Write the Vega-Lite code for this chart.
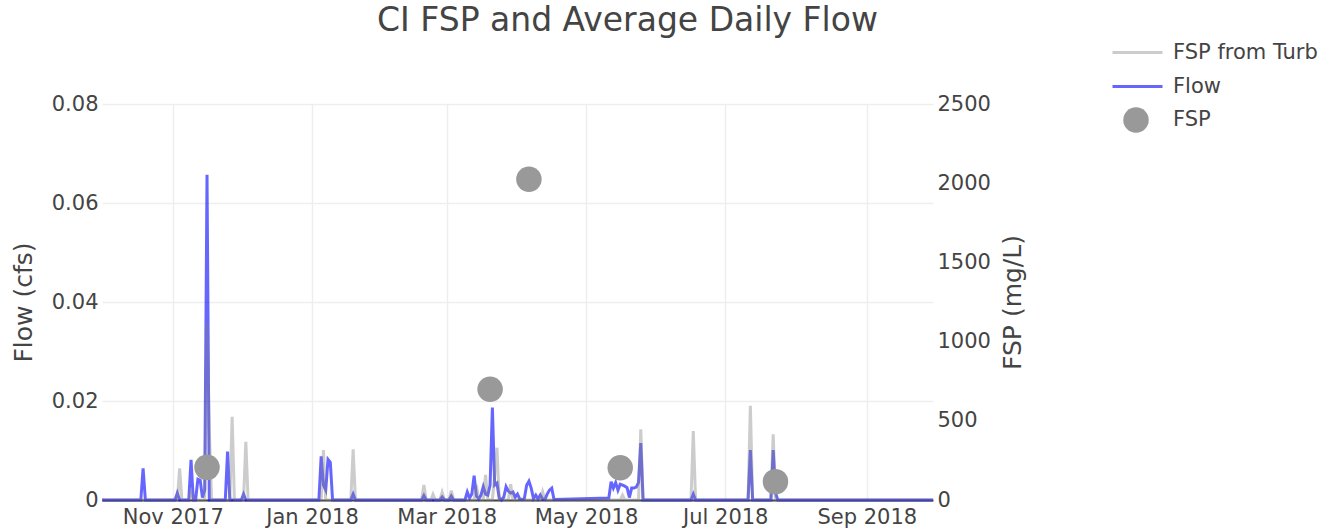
{
  "$schema": "https://vega.github.io/schema/vega-lite/v6.json",
  "width": 831,
  "height": 396,
  "autosize": {"type": "none"},
  "padding": {"left": 102, "top": 104, "right": 410, "bottom": 31},
  "title": {"text": "CI FSP and Average Daily Flow", "anchor": "middle", "frame": "group", "dx": 110, "offset": 3, "fontSize": 33, "font": "DejaVu Sans", "fontWeight": "normal", "color": "#444444"},
  "datasets": {
    "flow": [
      {"date": "2017-10-01", "flow": 0},
      {"date": "2017-10-18", "flow": 0},
      {"date": "2017-10-19", "flow": 0.0064},
      {"date": "2017-10-20", "flow": 0},
      {"date": "2017-11-02", "flow": 0},
      {"date": "2017-11-03", "flow": 0.0014},
      {"date": "2017-11-04", "flow": 0},
      {"date": "2017-11-08", "flow": 0},
      {"date": "2017-11-09", "flow": 0.0081},
      {"date": "2017-11-10", "flow": 0},
      {"date": "2017-11-11", "flow": 0},
      {"date": "2017-11-12", "flow": 0.0042},
      {"date": "2017-11-13", "flow": 0.004},
      {"date": "2017-11-14", "flow": 0.0005},
      {"date": "2017-11-15", "flow": 0.002},
      {"date": "2017-11-16", "flow": 0.0657},
      {"date": "2017-11-17", "flow": 0},
      {"date": "2017-11-24", "flow": 0},
      {"date": "2017-11-25", "flow": 0.0098},
      {"date": "2017-11-26", "flow": 0},
      {"date": "2017-12-01", "flow": 0},
      {"date": "2017-12-02", "flow": 0.0012},
      {"date": "2017-12-03", "flow": 0},
      {"date": "2018-01-04", "flow": 0},
      {"date": "2018-01-05", "flow": 0.0088},
      {"date": "2018-01-06", "flow": 0.003},
      {"date": "2018-01-07", "flow": 0.002},
      {"date": "2018-01-08", "flow": 0.0082},
      {"date": "2018-01-09", "flow": 0.0076},
      {"date": "2018-01-10", "flow": 0},
      {"date": "2018-01-18", "flow": 0},
      {"date": "2018-01-19", "flow": 0.0012},
      {"date": "2018-01-20", "flow": 0},
      {"date": "2018-02-18", "flow": 0},
      {"date": "2018-02-19", "flow": 0.0009},
      {"date": "2018-02-20", "flow": 0},
      {"date": "2018-02-26", "flow": 0},
      {"date": "2018-02-27", "flow": 0.0006},
      {"date": "2018-02-28", "flow": 0},
      {"date": "2018-03-02", "flow": 0},
      {"date": "2018-03-03", "flow": 0.0008},
      {"date": "2018-03-04", "flow": 0},
      {"date": "2018-03-09", "flow": 0},
      {"date": "2018-03-10", "flow": 0.0016},
      {"date": "2018-03-11", "flow": 0.0004},
      {"date": "2018-03-12", "flow": 0.0012},
      {"date": "2018-03-13", "flow": 0.0049},
      {"date": "2018-03-14", "flow": 0.0008},
      {"date": "2018-03-15", "flow": 0.0002},
      {"date": "2018-03-16", "flow": 0.001},
      {"date": "2018-03-17", "flow": 0.0027},
      {"date": "2018-03-18", "flow": 0.0012},
      {"date": "2018-03-19", "flow": 0.001},
      {"date": "2018-03-20", "flow": 0.003},
      {"date": "2018-03-21", "flow": 0.0187},
      {"date": "2018-03-22", "flow": 0.003},
      {"date": "2018-03-23", "flow": 0.0034},
      {"date": "2018-03-24", "flow": 0.0004},
      {"date": "2018-03-25", "flow": 0},
      {"date": "2018-03-26", "flow": 0.0006},
      {"date": "2018-03-27", "flow": 0.0027},
      {"date": "2018-03-28", "flow": 0.0018},
      {"date": "2018-03-29", "flow": 0.0014},
      {"date": "2018-03-30", "flow": 0.0016},
      {"date": "2018-03-31", "flow": 0.0006},
      {"date": "2018-04-01", "flow": 0.0012},
      {"date": "2018-04-02", "flow": 0.0002},
      {"date": "2018-04-03", "flow": 0.0001},
      {"date": "2018-04-04", "flow": 0.0003},
      {"date": "2018-04-05", "flow": 0.003},
      {"date": "2018-04-06", "flow": 0.0038},
      {"date": "2018-04-07", "flow": 0.0024},
      {"date": "2018-04-08", "flow": 0.0003},
      {"date": "2018-04-09", "flow": 0.001},
      {"date": "2018-04-10", "flow": 0.0002},
      {"date": "2018-04-11", "flow": 0.001},
      {"date": "2018-04-12", "flow": 0.0002},
      {"date": "2018-04-13", "flow": 0.0001},
      {"date": "2018-04-14", "flow": 0.0012},
      {"date": "2018-04-15", "flow": 0.002},
      {"date": "2018-04-16", "flow": 0.0024},
      {"date": "2018-04-17", "flow": 0.0001},
      {"date": "2018-05-11", "flow": 0.0004},
      {"date": "2018-05-12", "flow": 0.0037},
      {"date": "2018-05-13", "flow": 0.0024},
      {"date": "2018-05-14", "flow": 0.0035},
      {"date": "2018-05-15", "flow": 0.002},
      {"date": "2018-05-16", "flow": 0.0032},
      {"date": "2018-05-17", "flow": 0.003},
      {"date": "2018-05-18", "flow": 0.0028},
      {"date": "2018-05-19", "flow": 0.0025},
      {"date": "2018-05-20", "flow": 0.0005},
      {"date": "2018-05-21", "flow": 0.0024},
      {"date": "2018-05-22", "flow": 0.0024},
      {"date": "2018-05-23", "flow": 0.0026},
      {"date": "2018-05-24", "flow": 0.0035},
      {"date": "2018-05-25", "flow": 0.0115},
      {"date": "2018-05-26", "flow": 0},
      {"date": "2018-06-16", "flow": 0},
      {"date": "2018-06-17", "flow": 0.0012},
      {"date": "2018-06-18", "flow": 0},
      {"date": "2018-07-11", "flow": 0},
      {"date": "2018-07-12", "flow": 0.0101},
      {"date": "2018-07-13", "flow": 0},
      {"date": "2018-07-21", "flow": 0},
      {"date": "2018-07-22", "flow": 0.0101},
      {"date": "2018-07-23", "flow": 0.0015},
      {"date": "2018-07-24", "flow": 0},
      {"date": "2018-09-30", "flow": 0}
    ],
    "turb": [
      {"date": "2017-10-01", "fsp": 0},
      {"date": "2017-11-03", "fsp": 0},
      {"date": "2017-11-04", "fsp": 200},
      {"date": "2017-11-05", "fsp": 0},
      {"date": "2017-11-08", "fsp": 0},
      {"date": "2017-11-09", "fsp": 60},
      {"date": "2017-11-10", "fsp": 0},
      {"date": "2017-11-15", "fsp": 0},
      {"date": "2017-11-16", "fsp": 1115},
      {"date": "2017-11-17", "fsp": 442},
      {"date": "2017-11-18", "fsp": 0},
      {"date": "2017-11-26", "fsp": 0},
      {"date": "2017-11-27", "fsp": 526},
      {"date": "2017-11-28", "fsp": 0},
      {"date": "2017-12-02", "fsp": 0},
      {"date": "2017-12-03", "fsp": 368},
      {"date": "2017-12-04", "fsp": 0},
      {"date": "2018-01-05", "fsp": 0},
      {"date": "2018-01-06", "fsp": 316},
      {"date": "2018-01-07", "fsp": 0},
      {"date": "2018-01-18", "fsp": 0},
      {"date": "2018-01-19", "fsp": 320},
      {"date": "2018-01-20", "fsp": 0},
      {"date": "2018-02-18", "fsp": 0},
      {"date": "2018-02-19", "fsp": 95},
      {"date": "2018-02-20", "fsp": 0},
      {"date": "2018-02-22", "fsp": 0},
      {"date": "2018-02-23", "fsp": 36},
      {"date": "2018-02-24", "fsp": 0},
      {"date": "2018-02-26", "fsp": 0},
      {"date": "2018-02-27", "fsp": 49},
      {"date": "2018-02-28", "fsp": 0},
      {"date": "2018-03-02", "fsp": 0},
      {"date": "2018-03-03", "fsp": 59},
      {"date": "2018-03-04", "fsp": 0},
      {"date": "2018-03-13", "fsp": 0},
      {"date": "2018-03-14", "fsp": 95},
      {"date": "2018-03-15", "fsp": 0},
      {"date": "2018-03-17", "fsp": 0},
      {"date": "2018-03-18", "fsp": 158},
      {"date": "2018-03-19", "fsp": 0},
      {"date": "2018-03-21", "fsp": 0},
      {"date": "2018-03-22", "fsp": 150},
      {"date": "2018-03-23", "fsp": 330},
      {"date": "2018-03-24", "fsp": 0},
      {"date": "2018-03-28", "fsp": 0},
      {"date": "2018-03-29", "fsp": 99},
      {"date": "2018-03-30", "fsp": 0},
      {"date": "2018-04-11", "fsp": 0},
      {"date": "2018-04-12", "fsp": 52},
      {"date": "2018-04-13", "fsp": 0},
      {"date": "2018-05-16", "fsp": 0},
      {"date": "2018-05-17", "fsp": 30},
      {"date": "2018-05-18", "fsp": 0},
      {"date": "2018-05-24", "fsp": 0},
      {"date": "2018-05-25", "fsp": 446},
      {"date": "2018-05-26", "fsp": 0},
      {"date": "2018-06-16", "fsp": 0},
      {"date": "2018-06-17", "fsp": 436},
      {"date": "2018-06-18", "fsp": 0},
      {"date": "2018-07-11", "fsp": 0},
      {"date": "2018-07-12", "fsp": 595},
      {"date": "2018-07-13", "fsp": 0},
      {"date": "2018-07-21", "fsp": 0},
      {"date": "2018-07-22", "fsp": 415},
      {"date": "2018-07-23", "fsp": 0},
      {"date": "2018-09-30", "fsp": 0}
    ],
    "fsp": [
      {"date": "2017-11-16", "fsp": 206},
      {"date": "2018-03-20", "fsp": 699},
      {"date": "2018-04-06", "fsp": 2025},
      {"date": "2018-05-16", "fsp": 204},
      {"date": "2018-07-23", "fsp": 116}
    ]
  },
  "encoding": {
    "x": {
      "field": "date",
      "type": "temporal",
      "scale": {"type": "utc", "domain": [{"year": 2017, "month": 10, "date": 1, "utc": true}, {"year": 2018, "month": 9, "date": 30, "utc": true}]},
      "axis": {
        "title": null,
        "values": [
          {"year": 2017, "month": 11, "date": 1, "utc": true},
          {"year": 2018, "month": 1, "date": 1, "utc": true},
          {"year": 2018, "month": 3, "date": 1, "utc": true},
          {"year": 2018, "month": 5, "date": 1, "utc": true},
          {"year": 2018, "month": 7, "date": 1, "utc": true},
          {"year": 2018, "month": 9, "date": 1, "utc": true}
        ],
        "format": "%b %Y",
        "grid": true,
        "gridColor": "#eeeeee",
        "gridWidth": 1.5,
        "ticks": false,
        "domain": true,
        "domainColor": "#444444",
        "domainWidth": 2,
        "labelPadding": 6,
        "labelFontSize": 21,
        "labelColor": "#444444"
      }
    }
  },
  "layer": [
    {
      "data": {"name": "flow"},
      "mark": {"type": "line", "strokeWidth": 3, "opacity": 0.6, "color": "#0000ff"},
      "encoding": {
        "y": {
          "field": "flow",
          "type": "quantitative",
          "scale": {"domain": [0, 0.08], "nice": false},
          "axis": {
            "title": "Flow (cfs)",
            "values": [0, 0.02, 0.04, 0.06, 0.08],
            "labelExpr": "datum.value === 0 ? '0' : format(datum.value, '.2f')",
            "grid": true,
            "gridColor": "#eeeeee",
            "gridWidth": 1.5,
            "ticks": false,
            "domain": false,
            "labelPadding": 4,
            "labelFontSize": 21,
            "labelColor": "#444444",
            "titleFontSize": 25,
            "titleFontWeight": "normal",
            "titleColor": "#444444",
            "titlePadding": 15
          }
        }
      }
    },
    {
      "layer": [
        {
          "data": {"name": "turb"},
          "mark": {"type": "line", "strokeWidth": 3, "opacity": 0.4, "color": "#808080"},
          "encoding": {
            "y": {
              "field": "fsp",
              "type": "quantitative",
              "scale": {"domain": [0, 2500], "nice": false},
              "axis": {
                "orient": "right",
                "title": "FSP (mg/L)",
                "values": [0, 500, 1000, 1500, 2000, 2500],
                "format": "d",
                "grid": false,
                "ticks": false,
                "domain": false,
                "labelPadding": 4,
                "labelFontSize": 21,
                "labelColor": "#444444",
                "titleFontSize": 25,
                "titleFontWeight": "normal",
                "titleColor": "#444444",
                "titleAngle": 270,
                "titleBaseline": "top",
                "titlePadding": 10
              }
            }
          }
        },
        {
          "data": {"name": "fsp"},
          "mark": {"type": "point", "filled": true, "size": 650, "opacity": 1, "strokeWidth": 0, "color": "#999999"},
          "encoding": {
            "y": {"field": "fsp", "type": "quantitative"}
          }
        }
      ]
    },
    {
      "data": {"values": []},
      "mark": {"type": "line", "strokeWidth": 3},
      "encoding": {
        "stroke": {
          "field": "series",
          "type": "nominal",
          "scale": {"domain": ["FSP from Turb", "Flow"], "range": ["#cccccc", "#6666ff"]},
          "legend": {
            "orient": "none",
            "legendX": 1024,
            "legendY": -63,
            "title": null,
            "symbolType": "M-2.5,0H2.5",
            "symbolSize": 400,
            "symbolStrokeWidth": 3,
            "symbolOpacity": 1,
            "labelFontSize": 21,
            "labelColor": "#444444",
            "labelOffset": 24,
            "rowPadding": 12,
            "padding": 0
          }
        }
      }
    },
    {
      "data": {"values": []},
      "mark": {"type": "point", "filled": true},
      "encoding": {
        "fill": {
          "field": "kind",
          "type": "nominal",
          "scale": {"domain": ["FSP"], "range": ["#999999"]},
          "legend": {
            "orient": "none",
            "legendX": 1021,
            "legendY": 3,
            "title": null,
            "symbolType": "circle",
            "symbolSize": 650,
            "symbolStrokeWidth": 0,
            "symbolOpacity": 1,
            "labelFontSize": 21,
            "labelColor": "#444444",
            "labelOffset": 24,
            "padding": 0
          }
        }
      }
    }
  ],
  "resolve": {"scale": {"y": "independent"}},
  "config": {
    "font": "DejaVu Sans",
    "view": {"stroke": null}
  }
}
